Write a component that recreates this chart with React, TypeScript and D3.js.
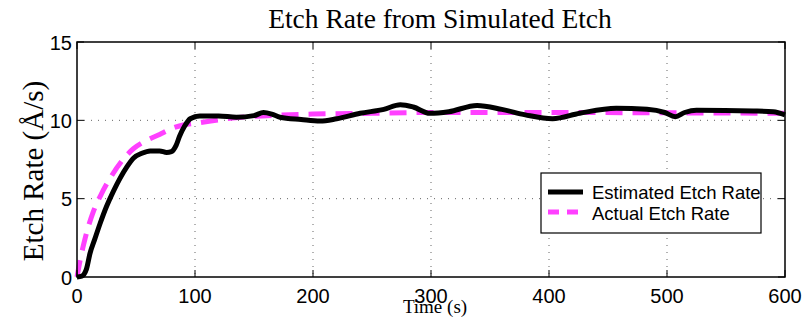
import React from "react";
import * as d3 from "d3";

// Time axis samples (s) and rates (Å/s)
const estTime = [0, 4, 8, 11, 15, 19.5, 25, 31, 42, 48, 55, 62, 70, 76, 80, 84, 87, 91, 96, 104, 120, 135, 150, 158, 165, 172, 190, 206, 220, 240, 260, 274, 285, 299, 315, 339, 360, 380, 403, 426, 457, 483, 498, 507, 515, 525, 573, 590, 600];
const estRate = [0, 0.05, 0.5, 1.5, 2.4, 3.4, 4.5, 5.5, 7.0, 7.6, 7.9, 8.05, 8.05, 7.95, 8.0, 8.4, 9.0, 9.6, 10.1, 10.28, 10.28, 10.2, 10.3, 10.5, 10.4, 10.2, 10.05, 9.95, 10.1, 10.45, 10.7, 11.0, 10.85, 10.45, 10.55, 10.95, 10.7, 10.35, 10.1, 10.45, 10.77, 10.7, 10.5, 10.23, 10.5, 10.65, 10.6, 10.55, 10.35];
const actTime = [0, 3, 7, 14, 20, 28, 39, 48, 56, 70, 81, 90, 104, 132, 161, 200, 250, 300, 400, 500, 600];
const actRate = [0, 1.2, 2.5, 4.2, 5.2, 6.3, 7.5, 8.2, 8.6, 9.1, 9.5, 9.7, 9.85, 10.15, 10.3, 10.4, 10.45, 10.5, 10.5, 10.48, 10.45];

const xTicks = [0, 100, 200, 300, 400, 500, 600];
const yTicks = [0, 5, 10, 15];
const seriesNames = ["Estimated Etch Rate", "Actual Etch Rate"];

const W = 808, H = 320;
const L = 77, R = 785, T = 42, B = 277;
const MAGENTA = "#ff40ff";

export default function App() {
  const x = d3.scaleLinear().domain([0, 600]).range([L, R]);
  const y = d3.scaleLinear().domain([0, 15]).range([B, T]);
  const lineGen = d3.line<[number, number]>().x(d => x(d[0])).y(d => y(d[1])).curve(d3.curveMonotoneX);
  const est = lineGen(estTime.map((t, i) => [t, estRate[i]]) as [number, number][]) || "";
  const act = lineGen(actTime.map((t, i) => [t, actRate[i]]) as [number, number][]) || "";
  const sans = "'Liberation Sans', Arial, sans-serif";
  const serif = "'Liberation Serif', 'Times New Roman', serif";
  return (
    <svg width={W} height={H} style={{ position: "absolute", left: 0, top: 0, background: "#fff" }}>
      <rect x={0} y={0} width={W} height={H} fill="#fff" />
      {/* grid */}
      {xTicks.slice(1, -1).map(t => (
        <line key={"gx" + t} x1={x(t)} x2={x(t)} y1={T} y2={B} stroke="#000" strokeWidth={1} strokeDasharray="1,6" opacity={0.6} />
      ))}
      {yTicks.slice(1, -1).map(t => (
        <line key={"gy" + t} x1={L} x2={R} y1={y(t)} y2={y(t)} stroke="#000" strokeWidth={1} strokeDasharray="1,6" opacity={0.6} />
      ))}
      {/* data */}
      <path d={act} fill="none" stroke={MAGENTA} strokeWidth={5} strokeDasharray="17,10" />
      <path d={est} fill="none" stroke="#000" strokeWidth={5} strokeLinejoin="round" />
      {/* frame */}
      <rect x={L} y={T} width={R - L} height={B - T} fill="none" stroke="#000" strokeWidth={1.5} />
      {xTicks.map(t => (
        <g key={"tx" + t}>
          <line x1={x(t)} x2={x(t)} y1={B} y2={B - 7} stroke="#000" />
          <line x1={x(t)} x2={x(t)} y1={T} y2={T + 7} stroke="#000" />
          <text x={x(t)} y={303} textAnchor="middle" fontFamily={sans} fontSize={20}>{t}</text>
        </g>
      ))}
      {yTicks.map(t => (
        <g key={"ty" + t}>
          <line x1={L} x2={L + 7} y1={y(t)} y2={y(t)} stroke="#000" />
          <line x1={R} x2={R - 7} y1={y(t)} y2={y(t)} stroke="#000" />
          <text x={72} y={y(t) + 7.5} textAnchor="end" fontFamily={sans} fontSize={20}>{t}</text>
        </g>
      ))}
      <text x={440} y={28} textAnchor="middle" fontFamily={serif} fontSize={27.5}>Etch Rate from Simulated Etch</text>
      <text x={435} y={313} textAnchor="middle" fontFamily={serif} fontSize={19}>Time (s)</text>
      <text transform={`translate(43,171) rotate(-90)`} textAnchor="middle" fontFamily={serif} fontSize={29}>Etch Rate (Å/s)</text>
      {/* legend */}
      <rect x={541} y={173} width={220} height={60} fill="#fff" stroke="#000" strokeWidth={1.2} />
      <line x1={548} x2={583} y1={192} y2={192} stroke="#000" strokeWidth={5} />
      <line x1={548} x2={583} y1={212} y2={212} stroke={MAGENTA} strokeWidth={5} strokeDasharray="11,8" />
      <text x={592} y={199} fontFamily={sans} fontSize={18.5}>{seriesNames[0]}</text>
      <text x={592} y={220} fontFamily={sans} fontSize={18.5}>{seriesNames[1]}</text>
    </svg>
  );
}
